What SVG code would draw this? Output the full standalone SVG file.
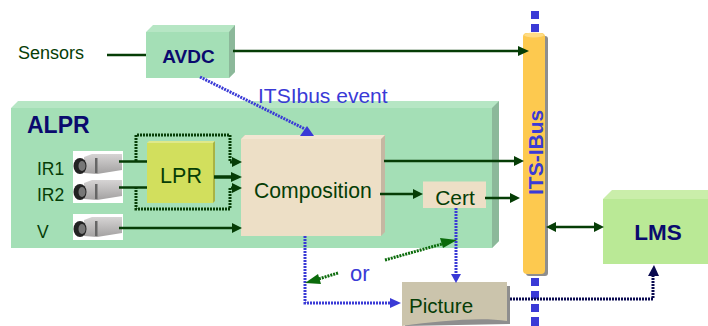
<svg xmlns="http://www.w3.org/2000/svg" width="708" height="326" viewBox="0 0 708 326">
<style>
text{font-family:"Liberation Sans",Arial,sans-serif}
.g{fill:#063d06}
.n{fill:#0a0a6e;font-weight:bold}
.b{fill:#3a3ad6}
.dk{stroke:#063d06;stroke-width:2.5;fill:none}
.dk3{stroke:#063d06;stroke-width:3.5;fill:none}
.dot{stroke:#063d06;stroke-width:3;stroke-dasharray:2 1;fill:none}
.bl{stroke:#3a3ad6;stroke-width:3;stroke-dasharray:2 1;fill:none}
.gr{stroke:#0b6b0b;stroke-width:3;stroke-dasharray:2 1;fill:none}
.nv{stroke:#0a0a50;stroke-width:3;stroke-dasharray:2 1;fill:none}
.ah{fill:#063d06}.ab{fill:#3a3ad6}.ag{fill:#0b6b0b}.an{fill:#0a0a50}
</style>
<defs>
<linearGradient id="body" x1="0" y1="0" x2="0" y2="1"><stop offset="0" stop-color="#d6d4d4"/><stop offset="1" stop-color="#a3a1a1"/></linearGradient>
<g id="cam">
<rect x="0" y="0" width="50" height="26" fill="#fff"/>
<path d="M11 6L19 3H49V19L24 23L11 22Z" fill="url(#body)"/>
<rect x="22" y="7" width="2.500" height="15" fill="#666"/>
<ellipse cx="7" cy="15" rx="6.500" ry="8" fill="#222"/>
<ellipse cx="9" cy="15" rx="3.500" ry="5" fill="#777"/>
</g>
</defs>
<g id="bus-line" fill="#3a3ad6">
<rect x="531" y="11" width="8" height="8"/><rect x="531" y="24" width="8" height="8"/>
</g>
<g id="alpr">
<path d="M11 108L18 101H499V241L492 248V108Z" fill="#b6e6c4"/>
<path d="M492 108L499 101V241L492 248Z" fill="#8cb89a"/>
<rect x="11" y="108" width="481" height="140" fill="#a4dfb6"/>
<text x="27" y="133" font-size="23" class="n">ALPR</text>
<text x="37" y="175" class="g" font-size="17.500">IR1</text>
<text x="37" y="201" class="g" font-size="17.500">IR2</text>
<text x="37" y="238" class="g" font-size="17.500">V</text>
</g>
<g id="avdc">
<path d="M146 32L153 25H235V72L229 78V32Z" fill="#b6e6c4"/>
<path d="M229 32L235 25V72L229 78Z" fill="#8cb89a"/>
<rect x="146" y="32" width="83" height="46" fill="#a4dfb6"/>
<text x="188.500" y="63" text-anchor="middle" font-size="19" class="n">AVDC</text>
</g>
<text id="sensors" x="18" y="59" class="g" font-size="18">Sensors</text>
<g id="cam1"><use href="#cam" x="73" y="151"/></g>
<g id="cam2"><use href="#cam" x="73" y="177"/></g>
<g id="cam3"><use href="#cam" x="73" y="214"/></g>
<g id="connectors-under">
<path class="dk" d="M119 161.500H147M119 187.500H147"/>
</g>
<g id="lpr">
<path d="M147 143L149 141H215L213 143Z" fill="#dfe98a"/>
<path d="M213 143L215 141V201L213 203Z" fill="#a9b343"/>
<rect x="147" y="143" width="66" height="60" fill="#d2df5d"/>
<text x="181" y="183" text-anchor="middle" class="g" font-size="21.500">LPR</text>
</g>
<g id="composition">
<path d="M241 139L245 135H385V232L381 236V139Z" fill="#c5b7a2"/>
<path d="M241 139L245 135H385L381 139Z" fill="#f2e6d2"/>
<rect x="241" y="139" width="140" height="97" fill="#eddfc6"/>
<text x="254" y="198" class="g" font-size="21.200">Composition</text>
</g>
<g id="cert">
<rect x="423" y="181.500" width="63" height="26.500" fill="#eddfc6"/>
<text x="455" y="205" text-anchor="middle" class="g" font-size="21">Cert</text>
</g>
<g id="its-ibus">
<rect x="526" y="36" width="22" height="240" rx="3" fill="#8e8e8e"/>
<rect x="523" y="33" width="22" height="241" rx="4" fill="#fdc94f"/>
<ellipse cx="534" cy="35" rx="10" ry="2.500" fill="#fedc85"/>
<text transform="translate(543,195) rotate(-90)" font-size="21" font-weight="bold" class="b">ITS-IBus</text>
</g>
<g id="bus-line-lower" fill="#3a3ad6">
<rect x="531" y="278" width="8" height="8"/><rect x="531" y="291" width="8" height="8"/><rect x="531" y="304" width="8" height="8"/><rect x="531" y="317" width="8" height="9"/>
</g>
<g id="lms">
<path d="M603 199L612 190H708V199Z" fill="#caeeaa"/>
<rect x="603" y="199" width="105" height="65" fill="#bae996"/>
<text x="658" y="240" text-anchor="middle" font-size="22.500" class="n">LMS</text>
</g>
<g id="picture">
<path d="M405 286H510V324L405 326Z" fill="#8e8e8e"/>
<path d="M402 282H507V321C480 317 440 321 402 326Z" fill="#cbc4ac"/>
<text x="409" y="313" class="g" font-size="20.600">Picture</text>
</g>
<g id="connectors">
<path class="dk" d="M107 55H146"/>
<path class="dk" d="M233 51H519"/><path class="ah" d="M518 46L529 51L518 56Z"/>
<path class="dot" d="M136 161V135H230V162H234M136 187V209H230V188H234"/>
<path class="ah" d="M232 157L242 162L232 167Z"/><path class="ah" d="M232 183L242 188L232 193Z"/>
<path class="dk3" d="M214 177H233"/><path class="ah" d="M231 172L242 177L231 182Z"/>
<path class="dk" d="M119 228H233"/><path class="ah" d="M232 223L242 228L232 233Z"/>
<path class="dk" d="M384 161H515"/><path class="ah" d="M514 156L524 161L514 166Z"/>
<path class="dk" d="M380 194H414"/><path class="ah" d="M413 189L423 194L413 199Z"/>
<path class="dk" d="M485 198H511"/><path class="ah" d="M510 193L520 198L510 203Z"/>
<path class="dk" d="M555 227H595"/><path class="ah" d="M546 227L556 222V232Z"/><path class="ah" d="M594 222L604 227L594 232Z"/>
<path class="bl" d="M200 77L305 129"/><path class="ab" d="M307 126L314 136L300 136Z"/>
<path class="bl" d="M305 236V303H392"/><path class="ab" d="M390 298L401 303L390 308Z"/>
<path class="bl" d="M456 208V274"/><path class="ab" d="M451 274L456 283L461 274Z"/>
<path class="gr" d="M385 260L442 244"/><path class="ag" d="M440 238L457 240L443 248Z"/>
<path class="gr" d="M338 273L315 280"/><path class="ag" d="M318 274L305 283L321 284Z"/>
<path class="nv" d="M510 299H653V272"/><path class="an" d="M648 276L654 265L659 276Z"/>
</g>
<text id="event" x="258" y="103" class="b" font-size="21">ITSIbus event</text>
<text id="or" x="350" y="281" class="b" font-size="22">or</text>
</svg>
